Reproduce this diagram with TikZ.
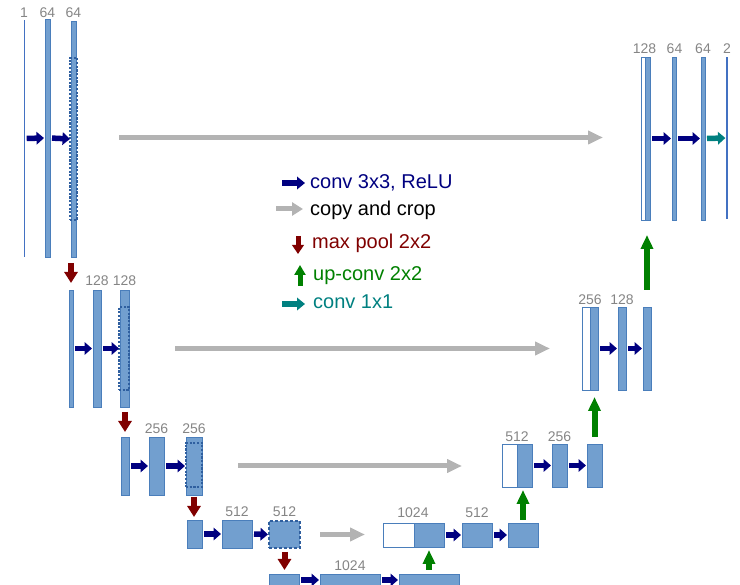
\documentclass[tikz,border=0pt]{standalone}
\usepackage{fontspec}
\setmainfont{Liberation Sans}
\usetikzlibrary{arrows.meta}
\definecolor{barfill}{HTML}{729FCF}
\definecolor{barline}{HTML}{4A7EBB}
\definecolor{dashline}{HTML}{2F5F9F}
\definecolor{numgray}{HTML}{858585}
\definecolor{cpgray}{HTML}{B3B3B3}
\definecolor{cnavy}{HTML}{000080}
\definecolor{cred}{HTML}{800000}
\definecolor{cgreen}{HTML}{008000}
\definecolor{cteal}{HTML}{008080}
\newcommand{\ublk}[6][blk]{\node[#1,anchor=north west,minimum width={#5pt-#3pt},minimum height={#6pt-#4pt}] (#2) at (#3,#4) {};}
\tikzset{
  blk/.style={draw=barline,fill=barfill,line width=0.8pt,inner sep=0pt,outer sep=0pt},
  wblk/.style={blk,fill=white},
  thinblk/.style={fill=barline!90!blue,draw=none,inner sep=0pt,outer sep=0pt},
  dblk/.style={draw=dashline,line width=1.4pt,dash pattern=on 2.2pt off 1.5pt,fill=none,inner sep=0pt,outer sep=0pt},
  dfblk/.style={blk,draw=dashline,line width=1.3pt,dash pattern=on 3pt off 2pt},
  num/.style={text=numgray,font=\fontsize{14}{15}\selectfont,anchor=base,inner sep=0pt},
  leg/.style={font=\fontsize{20}{22}\selectfont,anchor=base west,inner sep=0pt},
  convarr/.style={draw=cnavy,line width=5.5pt,-{Triangle[length=7.5pt,width=12.5pt]},shorten <=2pt,shorten >=1pt},
  onearr/.style={convarr,draw=cteal},
  copyarr/.style={draw=cpgray,line width=5pt,-{Triangle[length=15pt,width=13pt]}},
  poolarr/.style={draw=cred,line width=6pt,-{Triangle[length=11pt,width=13pt]}},
  uparr/.style={draw=cgreen,line width=6pt,-{Triangle[length=14pt,width=12pt]}},
}
\begin{document}
\begin{tikzpicture}[x=1pt,y=-1pt]
\useasboundingbox (0,0) rectangle (740,585);
\clip (0,0) rectangle (740,585);
% ---- level 1 left
\ublk[thinblk]{l1a}{23.5}{20}{24.7}{257}
\ublk{l1b}{45}{19}{50}{257}
\ublk{l1c}{71}{21}{76}{257}
\ublk[dblk]{l1d}{70}{58}{77}{220}
\node[num] (t1a) at (24,17.5) {1};
\node[num] (t1b) at (47.5,17.5) {64};
\node[num] (t1c) at (73.5,17.5) {64};
% ---- level 1 right
\ublk[wblk]{l1Ra}{641}{57}{645}{220}
\ublk{l1Rb}{645}{57}{650}{220}
\ublk{l1Rc}{672}{57}{676}{220}
\ublk{l1Rd}{701}{57}{705}{220}
\ublk[thinblk]{l1Re}{726.4}{57}{727.6}{219}
\node[num] (t1Ra) at (644.5,54) {128};
\node[num] (t1Rc) at (674.5,54) {64};
\node[num] (t1Rd) at (703,54) {64};
\node[num] (t1Re) at (727,54) {2};
% ---- level 2 left
\ublk{l2a}{69}{290}{73}{407}
\ublk{l2b}{93}{290}{101}{407}
\ublk{l2c}{120}{290}{129}{407}
\ublk[dblk]{l2d}{119}{307}{129}{390}
\node[num] (t2b) at (97,286) {128};
\node[num] (t2c) at (124.5,286) {128};
% ---- level 2 right
\ublk[wblk]{l2Ra}{582}{307}{590}{390}
\ublk{l2Rb}{590}{307}{598}{390}
\ublk{l2Rc}{618}{307}{626}{390}
\ublk{l2Rd}{643}{307}{651}{390}
\node[num] (t2Ra) at (590,305) {256};
\node[num] (t2Rc) at (622,305) {128};
% ---- level 3 left
\ublk{l3a}{121}{437}{129}{495}
\ublk{l3b}{149}{437}{164}{495}
\ublk{l3c}{186}{437}{202}{495}
\ublk[dblk]{l3d}{186}{443}{202}{487}
\node[num] (t3b) at (156.5,434) {256};
\node[num] (t3c) at (194,434) {256};
% ---- level 3 right
\ublk[wblk]{l3Ra}{502}{444}{517}{487}
\ublk{l3Rb}{517}{444}{532}{487}
\ublk{l3Rc}{552}{444}{567}{487}
\ublk{l3Rd}{587}{444}{602}{487}
\node[num] (t3Ra) at (517,442) {512};
\node[num] (t3Rc) at (559.5,442) {256};
% ---- level 4 left
\ublk{l4a}{187}{520}{202}{548}
\ublk{l4b}{222}{520}{252}{548}
\ublk[dfblk]{l4c}{269}{521}{300}{548}
\node[num] (t4b) at (237,517) {512};
\node[num] (t4c) at (284.5,517) {512};
% ---- level 4 right
\ublk[wblk]{l4Ra}{383}{523}{414}{547}
\ublk{l4Rb}{414}{523}{444}{547}
\ublk{l4Rc}{462}{523}{492}{547}
\ublk{l4Rd}{508}{523}{538}{547}
\node[num] (t4Ra) at (413,518) {1024};
\node[num] (t4Rc) at (477,518) {512};
% ---- bottom
\ublk{l5a}{269}{574}{299}{586}
\ublk{l5b}{320}{574}{380}{586}
\ublk{l5c}{399}{574}{459}{586}
\node[num] (t5b) at (350,571) {1024};
% ---- conv arrows
\draw[convarr] (l1a.east) -- (l1b.west);
\draw[convarr] (l1b.east) -- (l1c.west);
\draw[convarr] (l1Rb.east) -- (l1Rc.west);
\draw[convarr] (l1Rc.east) -- (l1Rd.west);
\draw[onearr] (l1Rd.east) -- (l1Re.west);
\draw[convarr] (l2a.east) -- (l2b.west);
\draw[convarr] (l2b.east) -- (l2c.west);
\draw[convarr] (l2Rb.east) -- (l2Rc.west);
\draw[convarr] (l2Rc.east) -- (l2Rd.west);
\draw[convarr] (l3a.east) -- (l3b.west);
\draw[convarr] (l3b.east) -- (l3c.west);
\draw[convarr] (l3Rb.east) -- (l3Rc.west);
\draw[convarr] (l3Rc.east) -- (l3Rd.west);
\draw[convarr] (l4a.east) -- (l4b.west);
\draw[convarr] (l4b.east) -- (l4c.west);
\draw[convarr] (l4Rb.east) -- (l4Rc.west);
\draw[convarr] (l4Rc.east) -- (l4Rd.west);
\draw[convarr] (l5a.east) -- (l5b.west);
\draw[convarr] (l5b.east) -- (l5c.west);
% ---- copy and crop
\draw[copyarr,shorten <=43pt,shorten >=38pt] (l1c.east) ++(0,-1.5) coordinate (c1s) -- (c1s -| l1Ra.west);
\draw[copyarr,shorten <=46pt,shorten >=32pt] (l2c.east) -- (l2c.east -| l2Ra.west);
\draw[copyarr,shorten <=36pt,shorten >=40pt] (l3c.east) -- (l3c.east -| l3Ra.west);
\draw[copyarr,shorten <=20pt,shorten >=18pt] (l4c.east) -- (l4c.east -| l4Ra.west);
% ---- max pool
\draw[poolarr,shorten <=6pt,shorten >=7pt] (l2a.north |- l1c.south) -- (l2a.north);
\draw[poolarr,shorten <=5pt,shorten >=5pt] (l3a.north |- l2c.south) -- (l3a.north);
\draw[poolarr,shorten <=2pt,shorten >=3pt] (l3c.south) -- (l3c.south |- l4a.north);
\draw[poolarr,shorten <=4pt,shorten >=4pt] (l4c.south) -- (l4c.south |- l5a.north);
% ---- up-conv
\draw[uparr,shorten <=4pt,shorten >=3pt] (l5c.north) -- (l5c.north |- l4Rb.south);
\draw[uparr,shorten <=3pt,shorten >=3pt] (l4Rd.north) -- (l4Rd.north |- l3Rb.south);
\draw[uparr,shorten <=7pt,shorten >=7pt] (l3Rd.north) -- (l3Rd.north |- l2Rb.south);
\draw[uparr,shorten <=17pt,shorten >=15pt] (l2Rd.north) -- (l2Rd.north |- l1Rb.south);
% ---- legend
\coordinate (g1s) at (282,183); \coordinate (g1e) at (305,183);
\coordinate (g2s) at (276,209); \coordinate (g2e) at (303,209);
\coordinate (g3s) at (298,236); \coordinate (g3e) at (298,254);
\coordinate (g4s) at (300,286); \coordinate (g4e) at (300,265);
\coordinate (g5s) at (282,304); \coordinate (g5e) at (305,304);
\draw[draw=cnavy,line width=5.5pt,-{Triangle[length=8pt,width=12.5pt]}] (g1s) -- (g1e);
\draw[draw=cpgray,line width=5pt,-{Triangle[length=11pt,width=13pt]}] (g2s) -- (g2e);
\draw[draw=cred,line width=5pt,-{Triangle[length=9pt,width=11.5pt]}] (g3s) -- (g3e);
\draw[draw=cgreen,line width=5pt,-{Triangle[length=10pt,width=11pt]}] (g4s) -- (g4e);
\draw[draw=cteal,line width=5.5pt,-{Triangle[length=8pt,width=12.5pt]}] (g5s) -- (g5e);
\node[leg,text=cnavy] (lg1) at (310,189) {conv 3x3, ReLU};
\node[leg,text=black] (lg2) at (310,216) {copy and crop};
\node[leg,text=cred] (lg3) at (312,249) {max pool 2x2};
\node[leg,text=cgreen] (lg4) at (313,281) {up-conv 2x2};
\node[leg,text=cteal] (lg5) at (313,309) {conv 1x1};
\end{tikzpicture}
\end{document}
